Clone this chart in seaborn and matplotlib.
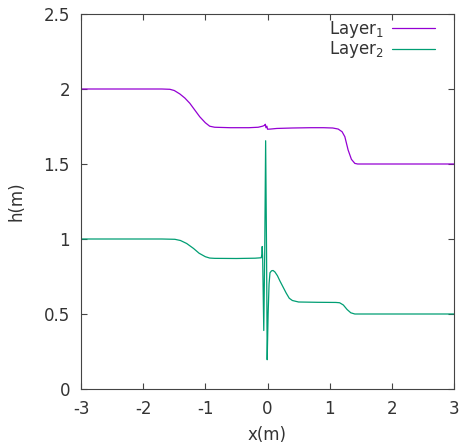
import numpy as np
import pandas as pd
import matplotlib
matplotlib.use("Agg")
import matplotlib.pyplot as plt
import seaborn as sns

x1 = [-3.0, -1.7, -1.57, -1.5, -1.41, -1.33, -1.25, -1.17, -1.09, -1.0, -0.93, -0.85,
      -0.6, -0.3, -0.15, -0.08, -0.05, -0.035, -0.025, -0.01, 0.0, 0.05, 0.15, 0.4,
      0.7, 0.9, 1.05, 1.137, 1.2, 1.244, 1.297, 1.35, 1.405, 1.45, 1.6, 3.0]
y1 = [2.0, 2.0, 1.998, 1.99, 1.967, 1.94, 1.905, 1.86, 1.815, 1.775, 1.752, 1.745,
      1.742, 1.742, 1.745, 1.752, 1.757, 1.765, 1.742, 1.752, 1.732, 1.733, 1.737, 1.74,
      1.742, 1.742, 1.74, 1.733, 1.715, 1.682, 1.593, 1.531, 1.504, 1.5, 1.5, 1.5]

x2 = [-3.0, -1.7, -1.49, -1.4, -1.3, -1.19, -1.1, -1.0, -0.93, -0.85, -0.5, -0.2,
      -0.1, -0.09, -0.085, -0.078, -0.06, -0.045, -0.03, -0.015, -0.005, 0.01, 0.025,
      0.04, 0.065, 0.09, 0.12, 0.16, 0.2, 0.25, 0.3, 0.35, 0.4, 0.5, 0.8, 1.1, 1.16,
      1.22, 1.28, 1.34, 1.405, 1.5, 3.0]
y2 = [1.0, 1.0, 0.998, 0.99, 0.97, 0.937, 0.905, 0.882, 0.873, 0.871, 0.87, 0.872,
      0.875, 0.9, 0.95, 0.88, 0.39, 0.9, 1.655, 0.9, 0.195, 0.5, 0.7,
      0.775, 0.788, 0.79, 0.78, 0.755, 0.72, 0.68, 0.64, 0.605, 0.59, 0.58, 0.578, 0.577, 0.575,
      0.56, 0.53, 0.508, 0.5, 0.5, 0.5]

labels = ["Layer$_1$", "Layer$_2$"]
colors = ["#9400d3", "#009e73"]
xticks = [-3, -2, -1, 0, 1, 2, 3]
yticks = [0, 0.5, 1, 1.5, 2, 2.5]

sns.set_theme(style="ticks")
plt.rcParams["font.family"] = ["DejaVu Sans"]
plt.rcParams["font.size"] = 12
plt.rcParams["mathtext.fontset"] = "dejavusans"

fig = plt.figure(figsize=(4.63, 4.48), dpi=100)
ax = fig.add_axes([81 / 463, 1 - 389 / 448, (454 - 81) / 463, (389 - 14) / 448])

df = pd.concat([
    pd.DataFrame({"x": x1, "h": y1, "layer": labels[0]}),
    pd.DataFrame({"x": x2, "h": y2, "layer": labels[1]}),
], ignore_index=True)

for lab, col in zip(labels, colors):
    sub = df[df["layer"] == lab]
    sns.lineplot(data=sub, x="x", y="h", ax=ax, color=col, lw=0.9,
                 label=lab, sort=False, estimator=None)

txtc = "#333333"
ax.set_xlim(-3, 3)
ax.set_ylim(0, 2.5)
ax.set_xticks(xticks)
ax.set_xticklabels([str(t) for t in xticks])
ax.set_yticks(yticks)
ax.set_yticklabels(["0", "0.5", "1", "1.5", "2", "2.5"])
ax.tick_params(axis="both", direction="in", length=4.3, width=0.8, color="#444444",
               labelsize=12, labelcolor=txtc, top=True, right=True)
ax.tick_params(axis="x", pad=8)
ax.tick_params(axis="y", pad=8)
for s in ax.spines.values():
    s.set_visible(True)
    s.set_color("#444444")
    s.set_linewidth(0.8)
ax.set_xlabel("x(m)", fontsize=12, color=txtc, labelpad=6)
ax.set_ylabel("h(m)", fontsize=12, color=txtc, labelpad=13)
ax.grid(False)

leg = ax.legend(loc="upper right", frameon=False, markerfirst=False, fontsize=12,
                handlelength=2.6, handletextpad=0.5, labelspacing=-0.05,
                borderaxespad=0.3, bbox_to_anchor=(0.981, 1.017))
for t in leg.get_texts():
    t.set_color(txtc)

fig.savefig("out.png", dpi=100)
